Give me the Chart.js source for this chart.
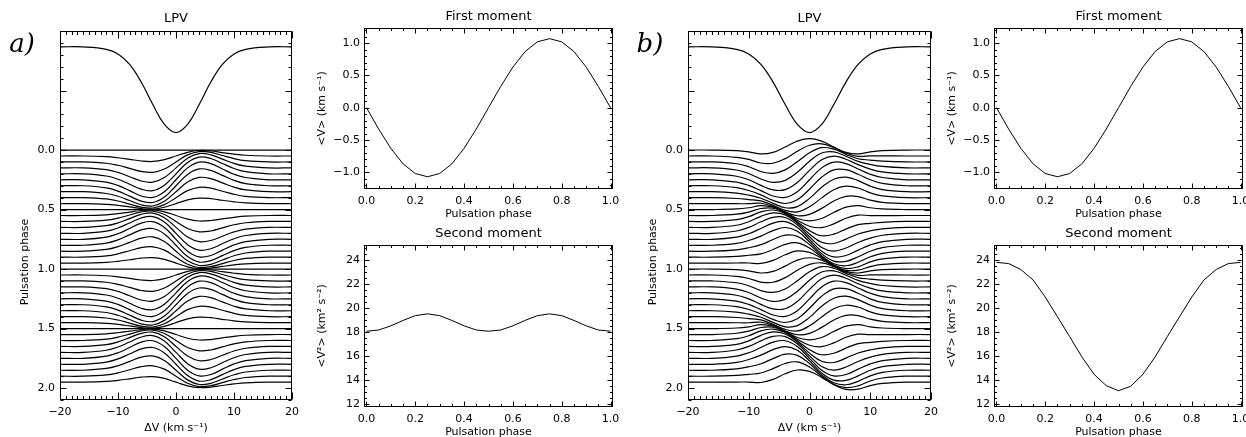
<!DOCTYPE html>
<html>
<head>
<meta charset="utf-8">
<script src="https://cdn.jsdelivr.net/npm/chart.js@4.4.1/dist/chart.umd.min.js"></script>
<style>
  html, body { margin: 0; padding: 0; background: #fff; overflow: hidden; width: 1246px; height: 437px; }
  canvas { position: absolute; }
</style>
</head>
<body>
<canvas id="lpvA"></canvas>
<canvas id="m1A"></canvas>
<canvas id="m2A"></canvas>
<canvas id="lpvB"></canvas>
<canvas id="m1B"></canvas>
<canvas id="m2B"></canvas>
<script>
// velocity grid (km/s) shared by the mean profile and all residual profiles
const VELOCITY = [-20, -16, -12, -10, -8, -6, -4, -2, 0, 2, 4, 6, 8, 10, 12, 16, 20];

// mean line profile, drawn above the residuals (in phase-axis units)
const MEAN_PROFILE = [-0.867, -0.866, -0.846, -0.806, -0.719, -0.571, -0.382, -0.215, -0.147,
  -0.215, -0.382, -0.571, -0.719, -0.806, -0.846, -0.866, -0.867];

// phase offsets of the stacked residual profiles
const LPV_PHASES = [0.00, 0.05, 0.10, 0.15, 0.20, 0.25, 0.30, 0.35, 0.40, 0.45,
  0.50, 0.55, 0.60, 0.65, 0.70, 0.75, 0.80, 0.85, 0.90, 0.95,
  1.00, 1.05, 1.10, 1.15, 1.20, 1.25, 1.30, 1.35, 1.40, 1.45,
  1.50, 1.55, 1.60, 1.65, 1.70, 1.75, 1.80, 1.85, 1.90, 1.95];

// residuals for one pulsation cycle (hundredths of phase, + = downwards), panel a
const RESID_A = [
  [0, 0, 0, 0, 0, 0, 0, 0, 0, 0, 0, 0, 0, 0, 0, 0, 0],
  [0, 0, 0.6, 1.5, 2.8, 4.2, 4.6, 3.1, 0, -3.1, -4.6, -4.2, -2.8, -1.5, -0.6, 0, 0],
  [0, 0, 1.1, 2.8, 5.4, 8.0, 8.7, 5.9, 0, -5.9, -8.7, -8.0, -5.4, -2.8, -1.1, 0, 0],
  [0, 0, 1.5, 3.8, 7.4, 11.0, 12.0, 8.1, 0, -8.1, -12.0, -11.0, -7.4, -3.8, -1.5, 0, 0],
  [0, 0, 1.8, 4.5, 8.7, 12.9, 14.1, 9.5, 0, -9.5, -14.1, -12.9, -8.7, -4.5, -1.8, 0, 0],
  [0, 0, 1.9, 4.7, 9.1, 13.6, 14.8, 10.0, 0, -10.0, -14.8, -13.6, -9.1, -4.7, -1.9, 0, 0],
  [0, 0, 1.8, 4.5, 8.7, 12.9, 14.1, 9.5, 0, -9.5, -14.1, -12.9, -8.7, -4.5, -1.8, 0, 0],
  [0, 0, 1.5, 3.8, 7.4, 11.0, 12.0, 8.1, 0, -8.1, -12.0, -11.0, -7.4, -3.8, -1.5, 0, 0],
  [0, 0, 1.1, 2.8, 5.4, 8.0, 8.7, 5.9, 0, -5.9, -8.7, -8.0, -5.4, -2.8, -1.1, 0, 0],
  [0, 0, 0.6, 1.5, 2.8, 4.2, 4.6, 3.1, 0, -3.1, -4.6, -4.2, -2.8, -1.5, -0.6, 0, 0],
  [0, 0, 0, 0, 0, 0, 0, 0, 0, 0, 0, 0, 0, 0, 0, 0, 0],
  [0, 0, -0.6, -1.5, -2.8, -4.2, -4.6, -3.1, 0, 3.1, 4.6, 4.2, 2.8, 1.5, 0.6, 0, 0],
  [0, 0, -1.1, -2.8, -5.4, -8.0, -8.7, -5.9, 0, 5.9, 8.7, 8.0, 5.4, 2.8, 1.1, 0, 0],
  [0, 0, -1.5, -3.8, -7.4, -11.0, -12.0, -8.1, 0, 8.1, 12.0, 11.0, 7.4, 3.8, 1.5, 0, 0],
  [0, 0, -1.8, -4.5, -8.7, -12.9, -14.1, -9.5, 0, 9.5, 14.1, 12.9, 8.7, 4.5, 1.8, 0, 0],
  [0, 0, -1.9, -4.7, -9.1, -13.6, -14.8, -10.0, 0, 10.0, 14.8, 13.6, 9.1, 4.7, 1.9, 0, 0],
  [0, 0, -1.8, -4.5, -8.7, -12.9, -14.1, -9.5, 0, 9.5, 14.1, 12.9, 8.7, 4.5, 1.8, 0, 0],
  [0, 0, -1.5, -3.8, -7.4, -11.0, -12.0, -8.1, 0, 8.1, 12.0, 11.0, 7.4, 3.8, 1.5, 0, 0],
  [0, 0, -1.1, -2.8, -5.4, -8.0, -8.7, -5.9, 0, 5.9, 8.7, 8.0, 5.4, 2.8, 1.1, 0, 0],
  [0, 0, -0.6, -1.5, -2.8, -4.2, -4.6, -3.1, 0, 3.1, 4.6, 4.2, 2.8, 1.5, 0.6, 0, 0]
];

// residuals for one pulsation cycle, panel b
const RESID_B = [
  [0, 0, 0.5, 1.5, 3.3, 2.0, -2.5, -7.5, -9.5, -7.5, -2.5, 2.0, 3.3, 1.5, 0.5, 0, 0],
  [0, 0, 1.1, 2.9, 5.9, 6.1, 2.2, -4.0, -9.0, -10.2, -7.0, -2.3, 0.3, -0.1, -0.1, 0, 0],
  [0, 0, 1.5, 4.0, 8.1, 9.6, 6.7, -0.2, -7.7, -12.0, -10.7, -6.4, -2.7, -1.6, -0.7, 0, 0],
  [0, 0, 1.8, 4.7, 9.3, 12.2, 10.5, 3.7, -5.6, -12.5, -13.5, -9.8, -5.5, -2.9, -1.2, 0, 0],
  [0, 0, 2.0, 5.0, 9.7, 13.5, 13.3, 7.2, -2.9, -11.8, -14.9, -12.3, -7.7, -4.0, -1.6, 0, 0],
  [0, 0, 1.9, 4.7, 9.1, 13.6, 14.8, 10.0, 0, -10.0, -14.8, -13.6, -9.1, -4.7, -1.9, 0, 0],
  [0, 0, 1.6, 4.0, 7.7, 12.3, 14.9, 11.8, 2.9, -7.2, -13.3, -13.5, -9.7, -5.0, -2.0, 0, 0],
  [0, 0, 1.2, 2.9, 5.5, 9.8, 13.5, 12.5, 5.6, -3.7, -10.5, -12.2, -9.3, -4.7, -1.8, 0, 0],
  [0, 0, 0.7, 1.6, 2.7, 6.4, 10.7, 12.0, 7.7, 0.2, -6.7, -9.6, -8.1, -4.0, -1.5, 0, 0],
  [0, 0, 0.1, 0.1, -0.3, 2.3, 7.0, 10.2, 9.0, 4.0, -2.2, -6.1, -5.9, -2.9, -1.1, 0, 0],
  [0, 0, -0.5, -1.5, -3.3, -2.0, 2.5, 7.5, 9.5, 7.5, 2.5, -2.0, -3.3, -1.5, -0.5, 0, 0],
  [0, 0, -1.1, -2.9, -5.9, -6.1, -2.2, 4.0, 9.0, 10.2, 7.0, 2.3, -0.3, 0.1, 0.1, 0, 0],
  [0, 0, -1.5, -4.0, -8.1, -9.6, -6.7, 0.2, 7.7, 12.0, 10.7, 6.4, 2.7, 1.6, 0.7, 0, 0],
  [0, 0, -1.8, -4.7, -9.3, -12.2, -10.5, -3.7, 5.6, 12.5, 13.5, 9.8, 5.5, 2.9, 1.2, 0, 0],
  [0, 0, -2.0, -5.0, -9.7, -13.5, -13.3, -7.2, 2.9, 11.8, 14.9, 12.3, 7.7, 4.0, 1.6, 0, 0],
  [0, 0, -1.9, -4.7, -9.1, -13.6, -14.8, -10.0, 0, 10.0, 14.8, 13.6, 9.1, 4.7, 1.9, 0, 0],
  [0, 0, -1.6, -4.0, -7.7, -12.3, -14.9, -11.8, -2.9, 7.2, 13.3, 13.5, 9.7, 5.0, 2.0, 0, 0],
  [0, 0, -1.2, -2.9, -5.5, -9.8, -13.5, -12.5, -5.6, 3.7, 10.5, 12.2, 9.3, 4.7, 1.8, 0, 0],
  [0, 0, -0.7, -1.6, -2.7, -6.4, -10.7, -12.0, -7.7, -0.2, 6.7, 9.6, 8.1, 4.0, 1.5, 0, 0],
  [0, 0, -0.1, -0.1, 0.3, -2.3, -7.0, -10.2, -9.0, -4.0, 2.2, 6.1, 5.9, 2.9, 1.1, 0, 0]
];

// moments vs pulsation phase
const MOMENT_PHASE = [0, 0.05, 0.1, 0.15, 0.2, 0.25, 0.3, 0.35, 0.4, 0.45, 0.5,
  0.55, 0.6, 0.65, 0.7, 0.75, 0.8, 0.85, 0.9, 0.95, 1.0];
const FIRST_MOMENT = [0, -0.33, -0.63, -0.87, -1.02, -1.07, -1.02, -0.87, -0.63, -0.33, 0,
  0.33, 0.63, 0.87, 1.02, 1.07, 1.02, 0.87, 0.63, 0.33, 0];
const SECOND_MOMENT_A = [18.05, 18.15, 18.5, 18.95, 19.35, 19.5, 19.35, 18.95, 18.5, 18.15, 18.05,
  18.15, 18.5, 18.95, 19.35, 19.5, 19.35, 18.95, 18.5, 18.15, 18.05];
const SECOND_MOMENT_B = [23.8, 23.7, 23.2, 22.33, 20.9, 19.26, 17.6, 15.9, 14.45, 13.5, 13.08,
  13.45, 14.45, 15.9, 17.6, 19.26, 20.9, 22.33, 23.2, 23.7, 23.8];

const FONT = "'DejaVu Sans', sans-serif";
const minus = (s) => s.replace("-", "\u2212");

// IDL-like frame: box, inward ticks on all sides, free text
const idlFrame = {
  id: "idlFrame",
  afterDatasetsDraw(chart, args, opts) {
    const { ctx, chartArea: a, scales } = chart;
    const L = Math.round(a.left) + 0.5, R = Math.round(a.right) - 0.5;
    const T = Math.round(a.top) + 0.5, B = Math.round(a.bottom) - 0.5;
    ctx.save();
    ctx.strokeStyle = "#000";
    ctx.lineWidth = 1;
    ctx.strokeRect(L, T, R - L, B - T);

    const marks = (sc, major, minor) => {
      const out = [];
      const n0 = Math.ceil(sc.min / minor - 1e-9), n1 = Math.floor(sc.max / minor + 1e-9);
      for (let n = n0; n <= n1; n++) {
        const v = n * minor;
        const q = v / major;
        out.push({ p: Math.round(sc.getPixelForValue(v)) + 0.5, major: Math.abs(q - Math.round(q)) < 1e-6 });
      }
      return out;
    };
    ctx.beginPath();
    marks(scales.x, opts.xMajor, opts.xMinor).forEach((m) => {
      const len = m.major ? opts.xLen : opts.xLen / 2;
      ctx.moveTo(m.p, B); ctx.lineTo(m.p, B - len);
      ctx.moveTo(m.p, T); ctx.lineTo(m.p, T + len);
    });
    marks(scales.y, opts.yMajor, opts.yMinor).forEach((m) => {
      const len = m.major ? opts.yLen : opts.yLen / 2;
      ctx.moveTo(L, m.p); ctx.lineTo(L + len, m.p);
      ctx.moveTo(R, m.p); ctx.lineTo(R - len, m.p);
    });
    ctx.stroke();

    ctx.fillStyle = "#000";
    ctx.textAlign = "center";
    ctx.textBaseline = "middle";
    (opts.texts || []).forEach((t) => {
      ctx.save();
      ctx.font = t.font || `${t.size || 11}px ${FONT}`;
      ctx.translate(t.x, t.y);
      if (t.rot) ctx.rotate(t.rot);
      ctx.fillText(t.text, 0, 0);
      ctx.restore();
    });
    ctx.restore();
  }
};

function lineSet(points, width) {
  return { data: points, borderColor: "#000", borderWidth: width, pointRadius: 0, tension: 0.4, fill: false };
}

function lpvDatasets(resid) {
  const sets = [lineSet(VELOCITY.map((v, i) => ({ x: v, y: MEAN_PROFILE[i] })), 1.2)];
  LPV_PHASES.forEach((ph, k) => {
    const row = resid[k % resid.length];
    sets.push(lineSet(VELOCITY.map((v, i) => ({ x: v, y: ph + row[i] / 100 })), 1.2));
  });
  return sets;
}

function momentDataset(values) {
  const ds = lineSet(MOMENT_PHASE.map((p, i) => ({ x: p, y: values[i] })), 1);
  ds.tension = 0;
  return [ds];
}

function makeChart(spec) {
  const cv = document.getElementById(spec.id);
  cv.width = spec.w; cv.height = spec.h;
  cv.style.left = spec.x0 + "px"; cv.style.top = spec.y0 + "px";
  cv.style.width = spec.w + "px"; cv.style.height = spec.h + "px";
  const texts = spec.texts.map((t) => ({ ...t, x: t.x - spec.x0, y: t.y - spec.y0 }));
  const tickFont = { family: FONT, size: 11 };
  return new Chart(cv, {
    type: "line",
    data: { datasets: spec.datasets },
    options: {
      responsive: false,
      animation: false,
      events: [],
      devicePixelRatio: 1,
      layout: { padding: spec.padding },
      plugins: {
        legend: { display: false },
        tooltip: { enabled: false },
        idlFrame: { ...spec.frame, texts }
      },
      scales: {
        x: {
          type: "linear", min: spec.x.min, max: spec.x.max,
          grid: { display: false, drawTicks: false }, border: { display: false },
          ticks: { stepSize: spec.x.step, font: tickFont, color: "#000", padding: spec.x.pad,
            maxRotation: 0, autoSkip: false, includeBounds: false, callback: spec.x.fmt },
          afterFit: (s) => { s.height = spec.xH; }
        },
        y: {
          type: "linear", min: spec.y.min, max: spec.y.max, reverse: !!spec.y.reverse,
          grid: { display: false, drawTicks: false }, border: { display: false },
          ticks: { stepSize: spec.y.step, font: tickFont, color: "#000", padding: spec.y.pad,
            autoSkip: false, includeBounds: false, callback: spec.y.fmt },
          afterFit: (s) => { s.width = spec.yW; }
        }
      }
    },
    plugins: [idlFrame]
  });
}

const velFmt = (v) => minus(String(v));
const phaseFmt = (v) => (v < -1e-9 ? "" : v.toFixed(1));
const oneDec = (v) => minus(v.toFixed(1));
const intFmt = (v) => String(v);
const ROT = -Math.PI / 2;

function lpvSpec(id, x0, yW, padRight, resid, label, labelX) {
  const cx = x0 + yW + (330 - padRight - yW) / 2;
  return {
    id, x0, y0: 0, w: 330, h: 437, yW, xH: 37,
    padding: { left: 0, top: 31, right: padRight, bottom: 0 },
    datasets: lpvDatasets(resid),
    x: { min: -20, max: 20, step: 10, pad: 6, fmt: velFmt },
    y: { min: -1, max: 2.1, step: 0.5, pad: 5, fmt: phaseFmt, reverse: true },
    frame: { xMajor: 10, xMinor: 1, xLen: 7, yMajor: 0.5, yMinor: 0.1, yLen: 6 },
    texts: [
      { text: "LPV", x: cx, y: 19, size: 13 },
      { text: "\u0394V (km s\u207B\u00B9)", x: cx, y: 428, size: 11 },
      { text: "Pulsation phase", x: x0 + yW - 35, y: 262, size: 11, rot: ROT },
      { text: label, x: labelX, y: 45, font: "italic 26px 'DejaVu Serif', serif" }
    ]
  };
}

function momentSpec(id, x0, y0, h, top, xH, values, isFirst) {
  const yW = 64, padRight = 17;
  const cx = x0 + yW + (330 - padRight - yW) / 2;
  const boxBottom = y0 + h - xH;
  const boxMid = (y0 + top + boxBottom) / 2;
  return {
    id, x0, y0, w: 330, h, yW, xH,
    padding: { left: 0, top, right: padRight, bottom: 0 },
    datasets: momentDataset(values),
    x: { min: -0.01, max: 1.01, step: 0.2, pad: 6, fmt: oneDec },
    y: isFirst
      ? { min: -1.26, max: 1.235, step: 0.5, pad: 4, fmt: oneDec }
      : { min: 11.72, max: 25.25, step: 2, pad: 4, fmt: intFmt },
    frame: isFirst
      ? { xMajor: 0.2, xMinor: 0.05, xLen: 5, yMajor: 0.5, yMinor: 0.1, yLen: 5 }
      : { xMajor: 0.2, xMinor: 0.05, xLen: 5, yMajor: 2, yMinor: 0.5, yLen: 5 },
    texts: [
      { text: isFirst ? "First moment" : "Second moment", x: cx, y: y0 + top - 11, size: 13 },
      { text: "Pulsation phase", x: cx, y: boxBottom + 25, size: 11 },
      { text: isFirst ? "<V> (km s\u207B\u00B9)" : "<V\u00B2> (km\u00B2 s\u207B\u00B2)",
        x: x0 + yW - 42, y: boxMid, size: 11, rot: ROT }
    ]
  };
}

makeChart(lpvSpec("lpvA", -10, 70, 28, RESID_A, "a)", 22));
makeChart(momentSpec("m1A", 300, 0, 232, 28, 43, FIRST_MOMENT, true));
makeChart(momentSpec("m2A", 300, 218, 219, 27, 30, SECOND_MOMENT_A, false));
makeChart(lpvSpec("lpvB", 620, 68, 19, RESID_B, "b)", 650));
makeChart(momentSpec("m1B", 930, 0, 232, 28, 43, FIRST_MOMENT, true));
makeChart(momentSpec("m2B", 930, 218, 219, 27, 30, SECOND_MOMENT_B, false));
</script>
</body>
</html>
